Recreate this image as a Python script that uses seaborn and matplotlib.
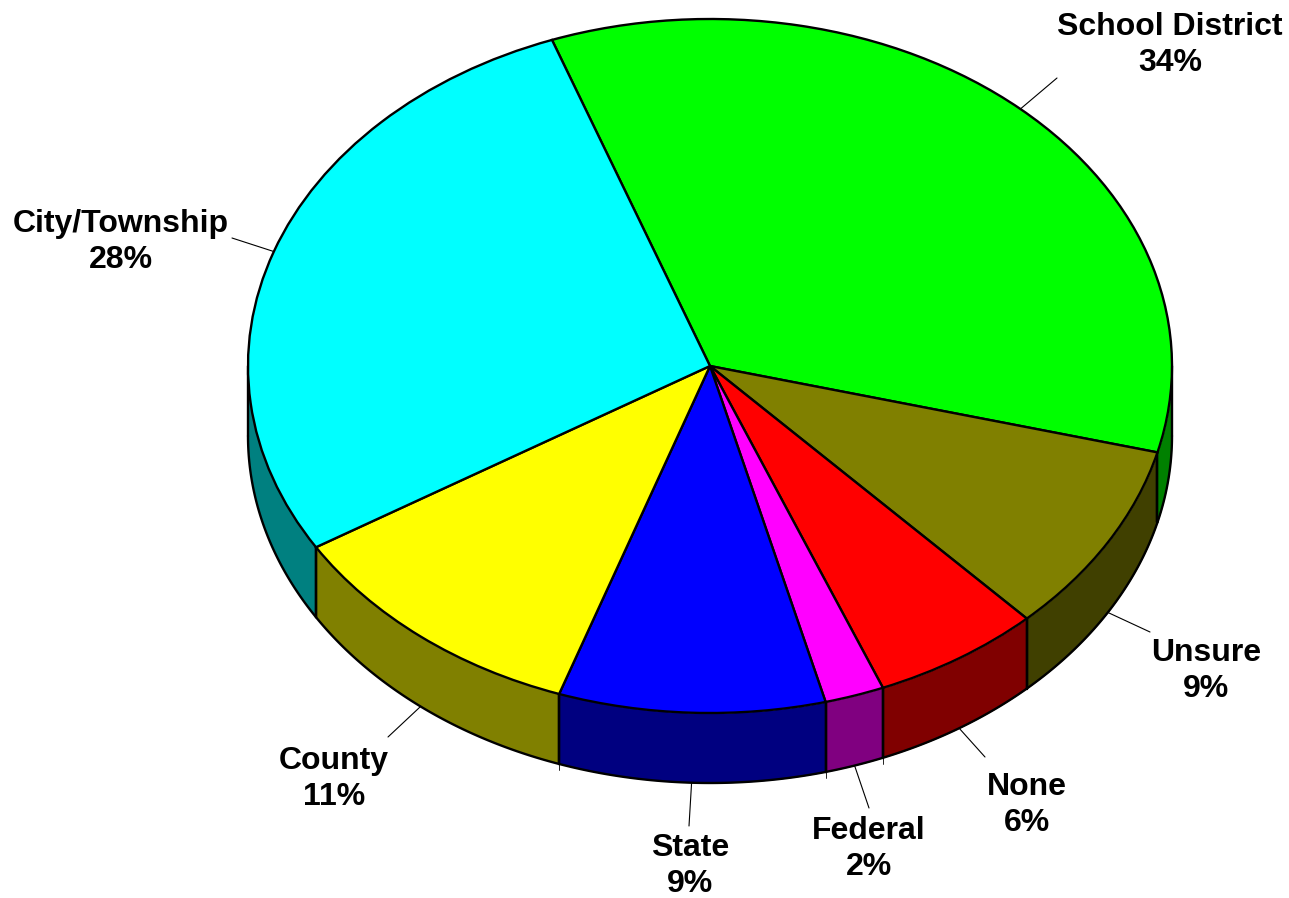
import numpy as np
import seaborn as sns
import matplotlib.pyplot as plt

categories = ["School District", "Unsure", "None", "Federal", "State", "County", "City/Township"]
shares = [34.56, 8.97, 5.92, 2.08, 9.32, 10.96, 28.19]
share_labels = ["34%", "9%", "6%", "2%", "9%", "11%", "28%"]
top_colors = ["#00ff00", "#808000", "#ff0000", "#ff00ff", "#0000ff", "#ffff00", "#00ffff"]
side_colors = ["#008000", "#404000", "#800000", "#800080", "#000080", "#808000", "#008080"]

# pixel layout of the reference
W, H = 1289, 898
CX, CY, RX, RY = 710, 366, 462, 347
DEPTH = 70 / RY
START = 110
LW = 1.7

# label centre and where the leader line stops, per category
label_xy = [(1170, 45), (1206, 671), (1027, 805), (869, 849), (690, 866), (334, 779), (121, 242)]
leader_end = [(1057, 78), (1150, 632), (985, 757), (869, 808), (689, 826), (388, 737), (232, 238)]

sns.set_theme(style="white")
plt.rcParams["font.family"] = ["Liberation Sans", "DejaVu Sans"]


def to_data(px, py):
    return (px - CX) / RX, (CY - py) / RY


fig = plt.figure(figsize=(W / 100, H / 100), dpi=100)
ax = fig.add_axes([0, 0, 1, 1])

ends = START - np.cumsum(shares) * 3.6
starts = np.r_[START, ends[:-1]]

# side wall, only the part of each slice facing the viewer
for a, b, col in zip(starts, ends, side_colors):
    for lo, hi in ((b, a), (b + 360, a + 360)):
        lo, hi = max(lo, -180), min(hi, 0)
        if hi <= lo:
            continue
        t = np.radians(np.linspace(lo, hi, 120))
        ax.fill_between(np.cos(t), np.sin(t) - DEPTH, np.sin(t), color=col, lw=0, zorder=1)
        ax.plot(np.cos(t), np.sin(t) - DEPTH, color="black", lw=LW, zorder=2)
        for edge in (lo, hi):
            e = np.radians(edge)
            ax.plot([np.cos(e)] * 2, [np.sin(e), np.sin(e) - DEPTH], color="black", lw=LW, zorder=2)

# small nicks under the wall at the lower slice joins
for edge in ends[2:5]:
    e = np.radians(edge)
    ax.plot([np.cos(e)] * 2, [np.sin(e) - DEPTH, np.sin(e) - DEPTH - 0.018], color="black", lw=0.6, zorder=1)

wedges, _ = ax.pie(
    shares, colors=top_colors, startangle=START, counterclock=False,
    wedgeprops={"edgecolor": "black", "linewidth": LW, "zorder": 3},
)

ax.set(xlim=(to_data(0, 0)[0], to_data(W, 0)[0]), ylim=(to_data(0, H)[1], to_data(0, 0)[1]), aspect="auto")
ax.axis("off")

mids = (starts + ends) / 2
for name, pct, mid, txt, end in zip(categories, share_labels, mids, label_xy, leader_end):
    m = np.radians(mid)
    x0, y0 = np.cos(m), np.sin(m)
    if y0 < 0:
        y0 -= DEPTH
    x1, y1 = to_data(*end)
    ax.plot([x0, x1], [y0, y1], color="black", lw=0.8, zorder=2)
    tx, ty = to_data(*txt)
    ax.text(tx, ty, f"{name}\n{pct}", ha="center", va="center", fontsize=23,
            fontweight="bold", color="black", linespacing=1.28, zorder=5)

fig.savefig("out.png", dpi=100)
